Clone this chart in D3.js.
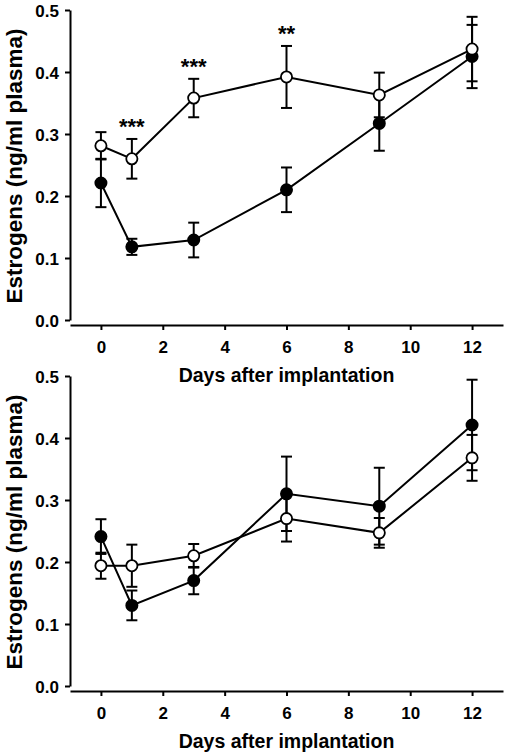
<!DOCTYPE html>
<html>
<head>
<meta charset="utf-8">
<script src="https://cdn.jsdelivr.net/npm/d3@7"></script>
<style>
  html, body { margin: 0; padding: 0; background: #fff; }
  svg text { font-family: "Liberation Sans", Arial, sans-serif; font-weight: bold; fill: #000; }
</style>
</head>
<body>
<svg id="chart" width="508" height="756"></svg>
<script>
// ---- Data ----
const days = [0, 1, 3, 6, 9, 12];
const xTicks = [0, 2, 4, 6, 8, 10, 12];
const yTicks = [0.0, 0.1, 0.2, 0.3, 0.4, 0.5];
const yTickLabels = ["0.0", "0.1", "0.2", "0.3", "0.4", "0.5"];

// top panel
const topOpen = [0.281, 0.260, 0.358, 0.392, 0.363, 0.437];
const topOpenErr = [0.022, 0.032, 0.031, 0.050, 0.036, 0.052];
const topFilled = [0.221, 0.118, 0.129, 0.210, 0.317, 0.425];
const topFilledErr = [0.039, 0.013, 0.028, 0.036, 0.044, 0.051];
const topStars = ["", "***", "***", "**", "", ""];

// bottom panel
const botOpen = [0.194, 0.194, 0.210, 0.270, 0.247, 0.368];
const botOpenErr = [0.021, 0.034, 0.019, 0.037, 0.024, 0.037];
const botFilled = [0.241, 0.130, 0.170, 0.310, 0.290, 0.421];
const botFilledErr = [0.028, 0.024, 0.022, 0.060, 0.062, 0.073];
const botStars = ["", "", "", "", "", ""];

const xTitle = "Days after implantation";
const yTitle = "Estrogens (ng/ml plasma)";

// ---- Drawing ----
const svg = d3.select("#chart");

function panel(offsetY, open, openErr, filled, filledErr, stars) {
  const g = svg.append("g").attr("transform", `translate(0,${offsetY})`);
  const x = d3.scaleLinear().domain([-1, 13]).range([70, 503]);
  const y = d3.scaleLinear().domain([0, 0.5]).range([320, 10]);

  // y axis
  const yAxis = d3.axisLeft(y).tickValues(yTicks)
    .tickFormat((d, i) => yTickLabels[i]).tickSize(5).tickSizeOuter(0).tickPadding(6);
  const ya = g.append("g").attr("transform", "translate(70,0)").call(yAxis);
  ya.selectAll("path, line").attr("stroke", "#000").attr("stroke-width", 2);
  ya.selectAll("text").style("font-size", "17px").attr("dy", "0.36em");

  // x axis
  const xAxis = d3.axisBottom(x).tickValues(xTicks).tickSize(5).tickSizeOuter(0).tickPadding(11);
  const xa = g.append("g").attr("transform", "translate(0,325)").call(xAxis);
  xa.selectAll("path, line").attr("stroke", "#000").attr("stroke-width", 2);
  xa.selectAll("text").style("font-size", "17px");

  // titles
  g.append("text").attr("x", 286.5).attr("y", 381.5).attr("text-anchor", "middle")
    .style("font-size", "19.5px").text(xTitle);
  g.append("text").attr("transform", "translate(22,166) rotate(-90)").attr("text-anchor", "middle")
    .style("font-size", "22.5px").text(yTitle);

  const line = d3.line().x((d, i) => x(days[i])).y(d => y(d));

  function series(vals, errs, fill) {
    const s = g.append("g");
    const cap = 5.5;
    vals.forEach((v, i) => {
      const cx = x(days[i]);
      const top = y(v + errs[i]), bot = y(v - errs[i]);
      s.append("line").attr("x1", cx).attr("x2", cx).attr("y1", top).attr("y2", bot)
        .attr("stroke", "#000").attr("stroke-width", 2);
      s.append("line").attr("x1", cx - cap).attr("x2", cx + cap).attr("y1", top).attr("y2", top)
        .attr("stroke", "#000").attr("stroke-width", 2);
      s.append("line").attr("x1", cx - cap).attr("x2", cx + cap).attr("y1", bot).attr("y2", bot)
        .attr("stroke", "#000").attr("stroke-width", 2);
    });
    s.append("path").datum(vals).attr("d", line).attr("fill", "none")
      .attr("stroke", "#000").attr("stroke-width", 2);
    s.selectAll("circle").data(vals).join("circle")
      .attr("cx", (d, i) => x(days[i])).attr("cy", d => y(d)).attr("r", 5.6)
      .attr("fill", fill).attr("stroke", "#000").attr("stroke-width", 1.8);
  }
  series(filled, filledErr, "#000");
  series(open, openErr, "#fff");

  // significance stars
  stars.forEach((s, i) => {
    if (!s) return;
    const top = Math.max(open[i] + openErr[i], filled[i] + filledErr[i]);
    g.append("text").attr("x", x(days[i])).attr("y", y(top) - 5)
      .attr("text-anchor", "middle").style("font-size", "22px").text(s);
  });
}

panel(0, topOpen, topOpenErr, topFilled, topFilledErr, topStars);
panel(366, botOpen, botOpenErr, botFilled, botFilledErr, botStars);
</script>
</body>
</html>
